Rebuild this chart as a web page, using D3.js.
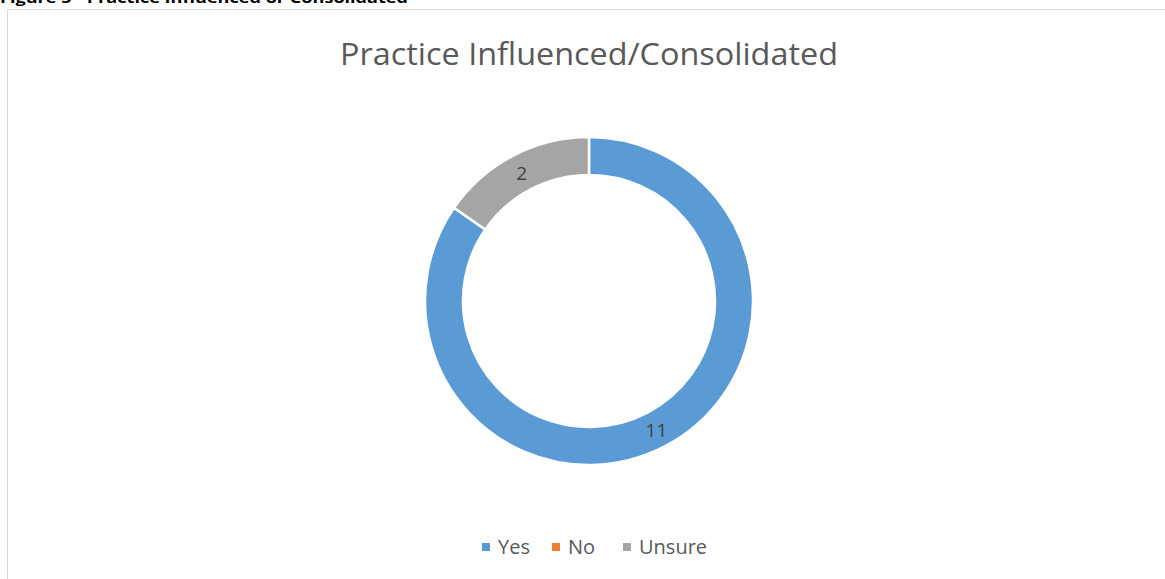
<!DOCTYPE html>
<html><head><meta charset="utf-8">
<script src="https://cdn.jsdelivr.net/npm/d3@7"></script>
<style>body{margin:0;background:#fff}svg{display:block}</style>
</head><body>
<svg id="c" width="1165" height="579"></svg>
<script>
const categories = ["Yes", "No", "Unsure"];
const values = [11, 0, 2];
const colors = ["#5B9BD5", "#ED7D31", "#A5A5A5"];
const chartTitle = "Practice Influenced/Consolidated";
const caption = "Figure 5 - Practice Influenced or Consolidated";

const svg = d3.select("#c");

// caption (cut off at top, as in the source)
svg.append("text").attr("x", 0).attr("y", 3)
  .attr("font-family", "Open Sans, sans-serif").attr("font-weight", "bold")
  .attr("font-size", 14).attr("fill", "#000")
  .attr("textLength", 408).attr("lengthAdjust", "spacingAndGlyphs")
  .text(caption);

// chart border
svg.append("rect").attr("x", 7.5).attr("y", 9.5).attr("width", 1170).attr("height", 600)
  .attr("fill", "#fff").attr("stroke", "#D9D9D9").attr("stroke-width", 1);

svg.append("text").attr("x", 589).attr("y", 65).attr("text-anchor", "middle")
  .attr("font-family", "Open Sans, sans-serif").attr("font-size", 31).attr("fill", "#595959")
  .attr("textLength", 498).attr("lengthAdjust", "spacingAndGlyphs")
  .text(chartTitle);

const cx = 589, cy = 301, rOut = 164, rIn = 126;
const data = categories.map((c, i) => ({cat: c, value: values[i], color: colors[i]}));
const pie = d3.pie().sort(null).value(d => d.value);
const arc = d3.arc().innerRadius(rIn).outerRadius(rOut);
const g = svg.append("g").attr("transform", `translate(${cx},${cy})`);
const arcs = pie(data);
g.selectAll("path").data(arcs.filter(a => a.data.value > 0)).join("path")
  .attr("d", arc).attr("fill", d => d.data.color)
  .attr("stroke", "#fff").attr("stroke-width", 2.5);
const labelArc = d3.arc().innerRadius((rIn + rOut) / 2).outerRadius((rIn + rOut) / 2);
g.selectAll("text").data(arcs.filter(a => a.data.value > 0)).join("text")
  .attr("transform", d => `translate(${labelArc.centroid(d)})`)
  .attr("text-anchor", "middle").attr("dy", "0.38em")
  .attr("font-family", "Open Sans, sans-serif").attr("font-size", 19).attr("fill", "#404040")
  .text(d => d.data.value);

// legend
const legendX = [482, 552, 623];
const lg = svg.append("g");
data.forEach((d, i) => {
  lg.append("rect").attr("x", legendX[i]).attr("y", 543).attr("width", 8).attr("height", 8).attr("fill", d.color);
  lg.append("text").attr("x", legendX[i] + 16).attr("y", 554)
    .attr("font-family", "Open Sans, sans-serif").attr("font-size", 20).attr("fill", "#595959")
    .text(d.cat);
});
</script>
</body></html>
